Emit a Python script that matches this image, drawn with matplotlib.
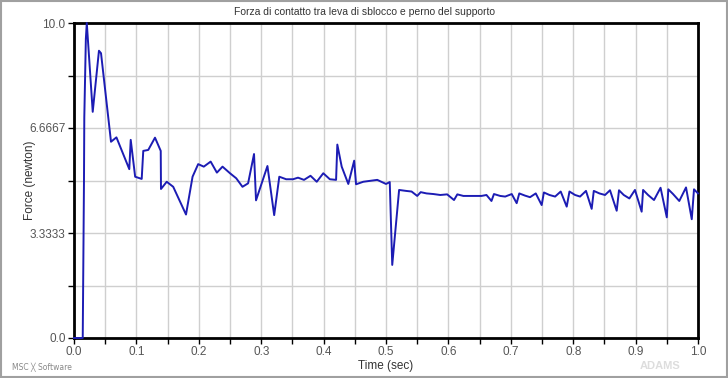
import numpy as np
import matplotlib
matplotlib.use('Agg')
import matplotlib.pyplot as plt
from matplotlib.ticker import MultipleLocator, FixedLocator

# ── dati ──────────────────────────────────────────────────────────────────────
time_s = [0.000, 0.014, 0.016, 0.0165, 0.019, 0.0205, 0.030, 0.040, 0.0433,
          0.0593, 0.068, 0.0886, 0.0909, 0.098, 0.1085, 0.111, 0.119, 0.1298,
          0.139, 0.1394, 0.1486, 0.159, 0.1795, 0.190, 0.199, 0.208, 0.219,
          0.229, 0.238, 0.250, 0.260, 0.270, 0.279, 0.2885, 0.2917, 0.310,
          0.3208, 0.329, 0.340, 0.351, 0.359, 0.3686, 0.379, 0.389, 0.3995,
          0.410, 0.420, 0.422, 0.429, 0.4396, 0.449, 0.452, 0.4636, 0.486,
          0.500, 0.506, 0.510, 0.521, 0.532, 0.541, 0.550, 0.5556, 0.565,
          0.576, 0.587, 0.598, 0.609, 0.6143, 0.624, 0.640, 0.653, 0.661,
          0.669, 0.673, 0.683, 0.691, 0.7015, 0.7094, 0.7136, 0.7228, 0.7308,
          0.740, 0.7495, 0.753, 0.762, 0.771, 0.780, 0.7896, 0.794, 0.803,
          0.811, 0.8205, 0.8296, 0.833, 0.842, 0.851, 0.859, 0.8697, 0.8734,
          0.881, 0.890, 0.899, 0.9097, 0.912, 0.920, 0.9295, 0.940, 0.950,
          0.9524, 0.960, 0.970, 0.9808, 0.990, 0.9936, 1.000]
force_n = [0.00, 0.00, 5.00, 7.00, 9.50, 10.00, 7.18, 9.12, 9.04,
           6.23, 6.37, 5.36, 6.29, 5.12, 5.05, 5.94, 5.97, 6.36,
           5.94, 4.73, 4.96, 4.80, 3.92, 5.12, 5.52, 5.44, 5.60,
           5.25, 5.44, 5.23, 5.07, 4.80, 4.91, 5.84, 4.37, 5.46,
           3.90, 5.12, 5.04, 5.04, 5.09, 5.02, 5.15, 4.96, 5.23,
           5.04, 5.02, 6.14, 5.44, 4.89, 5.63, 4.88, 4.96, 5.02,
           4.89, 4.95, 2.32, 4.70, 4.67, 4.65, 4.51, 4.63, 4.59,
           4.57, 4.54, 4.56, 4.38, 4.56, 4.51, 4.51, 4.51, 4.54,
           4.35, 4.57, 4.51, 4.49, 4.57, 4.28, 4.59, 4.52, 4.47,
           4.59, 4.22, 4.62, 4.54, 4.49, 4.65, 4.17, 4.65, 4.54,
           4.49, 4.67, 4.10, 4.67, 4.59, 4.54, 4.69, 4.04, 4.69,
           4.54, 4.43, 4.70, 4.01, 4.70, 4.54, 4.38, 4.77, 3.83,
           4.72, 4.57, 4.35, 4.78, 3.77, 4.72, 4.59]

y_ticks = [0.0, 10 / 3, 20 / 3, 10.0]
y_tick_labels = ['0.0', '3.3333', '6.6667', '10.0']
x_ticks = [0.0, 0.1, 0.2, 0.3, 0.4, 0.5, 0.6, 0.7, 0.8, 0.9, 1.0]
x_tick_labels = ['0.0', '0.1', '0.2', '0.3', '0.4', '0.5', '0.6', '0.7', '0.8', '0.9', '1.0']

# ── grafico ───────────────────────────────────────────────────────────────────
plt.rcParams['font.family'] = ['Liberation Sans', 'DejaVu Sans']

fig = plt.figure(figsize=(7.28, 3.78), dpi=100, facecolor='white')
ax = fig.add_axes([74 / 728, 40 / 378, 624 / 728, 315 / 378])

ax.plot(time_s, force_n, color='#1c1cb4', lw=1.4, zorder=3, clip_on=False)

ax.set_xlim(0, 1.0)
ax.set_ylim(0, 10.0)
ax.xaxis.set_major_locator(FixedLocator(x_ticks))
ax.set_xticklabels(x_tick_labels)
ax.xaxis.set_minor_locator(MultipleLocator(0.05))
ax.yaxis.set_major_locator(FixedLocator(y_ticks))
ax.set_yticklabels(y_tick_labels)
ax.yaxis.set_minor_locator(MultipleLocator(10 / 6))

ax.grid(which='both', color='#cfcfcf', lw=1.0, zorder=0)
ax.set_axisbelow(True)
ax.tick_params(which='both', direction='out', length=4, width=1,
               colors='black', labelcolor='#555555', labelsize=8.5, pad=2)
for sp in ax.spines.values():
    sp.set_linewidth(2)
    sp.set_color('black')

ax.set_xlabel('Time (sec)', fontsize=8.5, color='#333333', labelpad=1)
ax.set_ylabel('Force (newton)', fontsize=8.5, color='#333333')
ax.yaxis.set_label_coords(-38 / 624, 0.5)
fig.text(0.5, 1 - 12 / 378, 'Forza di contatto tra leva di sblocco e perno del supporto',
         ha='center', va='center', fontsize=7.5, color='#333333')

# loghi
fig.text(12 / 728, 1 - 367 / 378, 'MSC ╳ Software', ha='left', va='center',
         fontsize=5.5, color='#888888', family=['DejaVu Sans'])
fig.text(660 / 728, 1 - 366 / 378, 'ADAMS', ha='center', va='center',
         fontsize=8, color='#dddddd', fontweight='bold')

# cornice
fig.patches.append(plt.Rectangle((0.001, 0.002), 0.997, 0.995, transform=fig.transFigure,
                                 fill=False, edgecolor='#a0a0a0', lw=1.5))

plt.savefig('out.png', dpi=100, facecolor='white')
plt.close()
